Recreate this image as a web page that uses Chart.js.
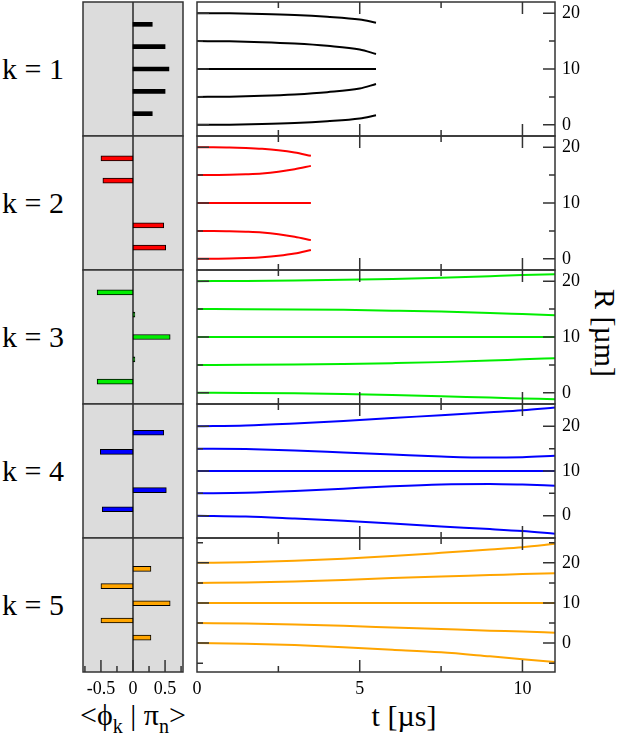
<!DOCTYPE html>
<html>
<head>
<meta charset="utf-8">
<script src="https://cdn.jsdelivr.net/npm/chart.js@4.4.1/dist/chart.umd.min.js"></script>
<style>
  body { margin: 0; background: #fff; }
  #wrap { position: relative; width: 623px; height: 739px; overflow: hidden; font-family: "Liberation Serif", serif; }
  #wrap canvas { position: absolute; }
  .lbl { position: absolute; font-size: 30px; color: #000; white-space: nowrap; line-height: 1; }
  .lbl sub { font-size: 20px; vertical-align: -8px; line-height: 0; }
</style>
</head>
<body>
<div id="wrap">
  <div class="lbl" id="ttl-t" style="left:404px;top:716px;transform:translate(-50%,-50%)">t [µs]</div>
  <div class="lbl" id="ttl-r" style="left:605px;top:333px;transform:translate(-50%,-50%) rotate(90deg)">R [µm]</div>
  <div class="lbl" id="ttl-phi" style="left:80px;top:700px">&lt;ϕ<sub>k</sub> | π<sub>n</sub>&gt;</div>
</div>
<script>
// ----- data -----
const kLabels = ["k = 1", "k = 2", "k = 3", "k = 4", "k = 5"];
const rPositions = [0, 5, 10, 15, 20];          // bar rows (R in µm)

// overlaps <phi_k | pi_n>, one per R row (0,5,10,15,20)
const overlapK1 = [0.30, 0.50, 0.56, 0.50, 0.30];
const overlapK2 = [0.51, 0.48, 0, -0.47, -0.50];
const overlapK3 = [-0.56, 0.03, 0.58, 0.03, -0.56];
const overlapK4 = [-0.48, 0.52, 0, -0.51, 0.48];
const overlapK5 = [0.28, -0.50, 0.58, -0.50, 0.28];

// time samples (µs)
const timesK1 = [0, 1, 2, 3, 4, 5, 5.5];
const timesK2 = [0, 0.5, 1, 1.5, 2, 2.5, 3, 3.5];
const timesLong = [0, 1.5, 3, 4.5, 6, 7.5, 9, 10, 11];

// R(t) per trajectory, starting from R = 0,5,10,15,20
const pathsK1 = [
  [0, 0.03, 0.13, 0.32, 0.65, 1.15, 1.7],
  [5, 5.05, 5.2, 5.45, 5.85, 6.5, 7.3],
  [10, 10, 10, 10, 10, 10, 10],
  [15, 14.95, 14.8, 14.55, 14.15, 13.5, 12.7],
  [20, 19.97, 19.87, 19.68, 19.35, 18.85, 18.3]
];
const pathsK2 = [
  [0, 0.01, 0.05, 0.15, 0.3, 0.55, 0.95, 1.6],
  [5, 4.99, 4.95, 4.85, 4.7, 4.4, 3.95, 3.35],
  [10, 10, 10, 10, 10, 10, 10, 10],
  [15, 15.01, 15.05, 15.15, 15.3, 15.6, 16.05, 16.65],
  [20, 19.99, 19.95, 19.85, 19.7, 19.45, 19.05, 18.45]
];
const pathsK3 = [
  [0, -0.02, -0.08, -0.2, -0.38, -0.6, -0.85, -1.0, -1.15],
  [5, 5.02, 5.07, 5.18, 5.32, 5.5, 5.77, 6.0, 6.2],
  [10, 10, 10, 10, 10, 10, 10, 10, 10],
  [15, 14.98, 14.94, 14.86, 14.72, 14.55, 14.3, 14.1, 13.9],
  [20, 20.03, 20.1, 20.25, 20.4, 20.6, 20.9, 21.1, 21.25]
];
const pathsK4 = [
  [0, -0.2, -0.65, -1.15, -1.75, -2.4, -3.0, -3.45, -4.05],
  [5, 5.12, 5.5, 6.05, 6.6, 7.0, 7.1, 6.95, 6.7],
  [10, 10, 10, 10, 10, 10, 10, 10, 10],
  [15, 14.9, 14.6, 14.15, 13.7, 13.25, 13.0, 13.1, 13.4],
  [20, 20.2, 20.65, 21.2, 21.85, 22.5, 23.15, 23.6, 24.2]
];
const pathsK5 = [
  [0, -0.15, -0.5, -1.05, -1.65, -2.3, -3.3, -4.0, -4.7],
  [5, 4.9, 4.65, 4.3, 3.9, 3.5, 3.1, 2.9, 2.6],
  [10, 10, 10, 10, 10, 10, 10, 10, 10],
  [15, 15.1, 15.35, 15.75, 16.2, 16.6, 16.95, 17.2, 17.4],
  [20, 20.15, 20.5, 21.05, 21.7, 22.5, 23.35, 23.9, 24.75]
];

// axis ranges and tick labels
const rRanges = [[-2, 22], [-2, 22], [-2, 22], [-5, 25], [-7.2, 26.2]];
const rTickLabels = [0, 10, 20];
const rMinorTicks = [-5, 5, 15, 25];
const tTickLabels = [0, 5, 10];
const tMinorTicks = [2.5, 7.5];
const overlapTickLabels = [-0.5, 0, 0.5];
const overlapMinorTicks = [-0.75, -0.25, 0.25, 0.75];

const panelColors = ["#000000", "#ff0000", "#00ee00", "#0000ff", "#ffa500"];

// ----- layout -----
Chart.defaults.font.family = "'Liberation Serif', serif";
Chart.defaults.color = "#000";
const tops = [2, 136, 270, 404, 538];
const panelH = 134;
const wrap = document.getElementById("wrap");

// frame + inward ticks (xmgrace style)
const framePlugin = {
  id: "frame",
  beforeDatasetsDraw(chart, args, o) {
    const a = chart.chartArea, c = chart.ctx;
    c.save();
    if (o.fill) {
      c.fillStyle = o.fill;
      c.fillRect(a.left, a.top, a.right - a.left, a.bottom - a.top);
    }
    if (o.zeroLine) {
      const x0 = chart.scales.x.getPixelForValue(0);
      c.strokeStyle = "#555";
      c.lineWidth = 2;
      c.beginPath();
      c.moveTo(x0, a.top);
      c.lineTo(x0, a.bottom);
      c.stroke();
    }
    c.restore();
  },
  afterDatasetsDraw(chart, args, o) {
    const a = chart.chartArea, c = chart.ctx;
    const sx = chart.scales.x, sy = chart.scales.y;
    c.save();
    c.strokeStyle = "#333";
    c.lineWidth = 1.5;
    c.beginPath();
    const xt = (vals, len) => vals.forEach(v => {
      if (v <= sx.min || v >= sx.max) return;
      const x = sx.getPixelForValue(v);
      if (o.xTop) { c.moveTo(x, a.top); c.lineTo(x, a.top + len); }
      if (o.xBottom) { c.moveTo(x, a.bottom); c.lineTo(x, a.bottom - len); }
    });
    const yt = (vals, len) => vals.forEach(v => {
      if (v <= sy.min || v >= sy.max) return;
      const y = sy.getPixelForValue(v);
      c.moveTo(a.left, y); c.lineTo(a.left + len, y);
      c.moveTo(a.right, y); c.lineTo(a.right - len, y);
    });
    if (o.xMajor) xt(o.xMajor, 12);
    if (o.xMinor) xt(o.xMinor, 6);
    if (o.yMajor) yt(o.yMajor, 12);
    if (o.yMinor) yt(o.yMinor, 6);
    c.stroke();
    c.strokeRect(a.left, a.top, a.right - a.left, a.bottom - a.top);
    c.restore();
  }
};

function addCanvas(left, top, w, h) {
  const cv = document.createElement("canvas");
  cv.width = w; cv.height = h;
  cv.style.left = left + "px"; cv.style.top = top + "px";
  cv.style.width = w + "px"; cv.style.height = h + "px";
  wrap.appendChild(cv);
  return cv.getContext("2d");
}

const allPaths = [pathsK1, pathsK2, pathsK3, pathsK4, pathsK5];
const allTimes = [timesK1, timesK2, timesLong, timesLong, timesLong];
const allOverlaps = [overlapK1, overlapK2, overlapK3, overlapK4, overlapK5];

kLabels.forEach((lab, i) => {
  const last = i === 4;
  const color = panelColors[i];
  const [yMin, yMax] = rRanges[i];

  // side label
  const d = document.createElement("div");
  d.className = "lbl";
  d.textContent = lab;
  d.style.left = "2px";
  d.style.top = (tops[i] + panelH / 2) + "px";
  d.style.transform = "translateY(-50%)";
  wrap.appendChild(d);

  const fitX = s => { s.height = last ? 30 : 0; s.paddingLeft = 0; s.paddingRight = 0; };
  const fitY = s => { s.width = 40; s.paddingTop = 0; s.paddingBottom = 0; };

  // trajectories R(t)
  const lctx = addCanvas(190, tops[i] - 6, 410, last ? 175 : 146);
  new Chart(lctx, {
    type: "line",
    data: {
      datasets: allPaths[i].map(p => ({
        data: p.map((r, j) => ({ x: allTimes[i][j], y: r })),
        borderColor: color,
        borderWidth: 2,
        pointRadius: 0,
        cubicInterpolationMode: "monotone",
        fill: false
      }))
    },
    options: {
      responsive: false,
      animation: false,
      devicePixelRatio: 1,
      layout: { padding: { left: 7, top: 6, right: 5, bottom: last ? 5 : 6 } },
      plugins: {
        legend: { display: false },
        tooltip: { enabled: false },
        frame: { xTop: true, xBottom: true, xMajor: tTickLabels, xMinor: tMinorTicks, yMajor: rTickLabels, yMinor: rMinorTicks }
      },
      scales: {
        x: {
          type: "linear", min: 0, max: 11, display: last,
          grid: { display: false, drawTicks: false },
          border: { display: false },
          afterBuildTicks: s => { s.ticks = tTickLabels.map(v => ({ value: v })); },
          afterFit: fitX,
          ticks: { font: { size: 18 }, padding: 6, maxRotation: 0, callback: v => String(v) }
        },
        y: {
          type: "linear", position: "right", min: yMin, max: yMax,
          grid: { display: false, drawTicks: false },
          border: { display: false },
          afterBuildTicks: s => { s.ticks = rTickLabels.map(v => ({ value: v })); },
          afterFit: fitY,
          ticks: { font: { size: 18 }, padding: 7, callback: v => String(v) }
        }
      }
    },
    plugins: [framePlugin]
  });

  // overlap bars
  const bctx = addCanvas(76, tops[i] - 6, 114, last ? 175 : 146);
  const rows = rPositions.map((r, j) => ({ x: allOverlaps[i][j], y: r })).filter(p => p.x !== 0);
  new Chart(bctx, {
    type: "bar",
    data: {
      datasets: [{
        data: rows,
        backgroundColor: color,
        borderColor: "#000",
        borderWidth: i === 0 ? 0 : 1,
        borderSkipped: false,
        barThickness: i === 0 ? 4 : 5
      }]
    },
    options: {
      indexAxis: "y",
      responsive: false,
      animation: false,
      devicePixelRatio: 1,
      layout: { padding: { left: 7, top: 6, right: 7, bottom: last ? 5 : 6 } },
      plugins: {
        legend: { display: false },
        tooltip: { enabled: false },
        frame: last
          ? { fill: "#dcdcdc", zeroLine: true, xBottom: true, xMajor: overlapTickLabels, xMinor: overlapMinorTicks }
          : { fill: "#dcdcdc", zeroLine: true }
      },
      scales: {
        x: {
          type: "linear", min: -0.78, max: 0.78, display: last,
          grid: { display: false, drawTicks: false },
          border: { display: false },
          afterBuildTicks: s => { s.ticks = overlapTickLabels.map(v => ({ value: v })); },
          afterFit: fitX,
          ticks: { font: { size: 18 }, padding: 6, maxRotation: 0, callback: v => String(v) }
        },
        y: { type: "linear", min: yMin, max: yMax, display: false }
      }
    },
    plugins: [framePlugin]
  });
});
</script>
</body>
</html>
